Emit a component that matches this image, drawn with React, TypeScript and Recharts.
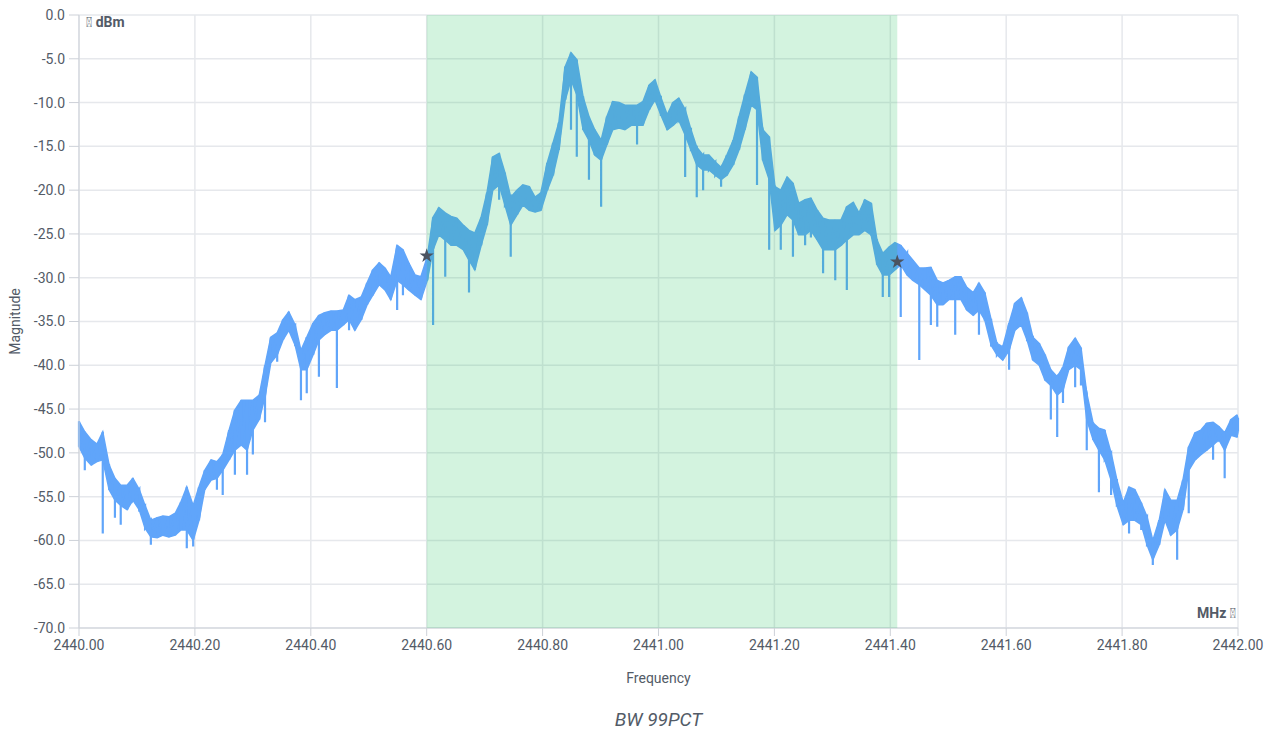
import {
  ComposedChart,
  Area,
  Line,
  Scatter,
  XAxis,
  YAxis,
  CartesianGrid,
  ReferenceArea,
} from "recharts";

// sample frequencies (MHz)
const freqMHz = [
  2440.0, 2440.01, 2440.021, 2440.031, 2440.041, 2440.052, 2440.062, 2440.072, 2440.083, 2440.093,
  2440.104, 2440.114, 2440.124, 2440.135, 2440.145, 2440.155, 2440.166, 2440.176, 2440.186, 2440.197,
  2440.207, 2440.217, 2440.228, 2440.238, 2440.248, 2440.259, 2440.269, 2440.28, 2440.29, 2440.3,
  2440.311, 2440.321, 2440.331, 2440.342, 2440.352, 2440.362, 2440.373, 2440.383, 2440.393, 2440.404,
  2440.414, 2440.424, 2440.435, 2440.445, 2440.456, 2440.466, 2440.476, 2440.487, 2440.497, 2440.507,
  2440.518, 2440.528, 2440.538, 2440.549, 2440.559, 2440.569, 2440.58, 2440.59, 2440.601, 2440.611,
  2440.621, 2440.632, 2440.642, 2440.652, 2440.663, 2440.673, 2440.683, 2440.694, 2440.704, 2440.714,
  2440.725, 2440.735, 2440.745, 2440.756, 2440.766, 2440.777, 2440.787, 2440.797, 2440.808, 2440.818,
  2440.828, 2440.839, 2440.849, 2440.859, 2440.87, 2440.88, 2440.89, 2440.901, 2440.911, 2440.921,
  2440.932, 2440.942, 2440.953, 2440.963, 2440.973, 2440.984, 2440.994, 2441.004, 2441.015, 2441.025,
  2441.035, 2441.046, 2441.056, 2441.066, 2441.077, 2441.087, 2441.098, 2441.108, 2441.118, 2441.129,
  2441.139, 2441.149, 2441.16, 2441.17, 2441.18, 2441.191, 2441.201, 2441.211, 2441.222, 2441.232,
  2441.242, 2441.253, 2441.263, 2441.274, 2441.284, 2441.294, 2441.305, 2441.315, 2441.325, 2441.336,
  2441.346, 2441.356, 2441.367, 2441.377, 2441.387, 2441.398, 2441.408, 2441.418, 2441.429, 2441.439,
  2441.45, 2441.46, 2441.47, 2441.481, 2441.491, 2441.501, 2441.512, 2441.522, 2441.532, 2441.543,
  2441.553, 2441.563, 2441.574, 2441.584, 2441.594, 2441.605, 2441.615, 2441.626, 2441.636, 2441.646,
  2441.657, 2441.667, 2441.677, 2441.688, 2441.698, 2441.708, 2441.719, 2441.729, 2441.739, 2441.75,
  2441.76, 2441.77, 2441.781, 2441.791, 2441.802, 2441.812, 2441.822, 2441.833, 2441.843, 2441.853,
  2441.864, 2441.874, 2441.884, 2441.895, 2441.905, 2441.915, 2441.926, 2441.936, 2441.946, 2441.957,
  2441.967, 2441.977, 2441.988, 2441.998, 2442.0,
];

// top of the trace band (dBm)
const upper = [
  -46.4, -47.6, -48.5, -49.0, -47.6, -51.4, -52.9, -53.7, -53.7, -52.9,
  -54.2, -56.0, -57.7, -57.4, -57.2, -57.3, -56.9, -55.6, -53.9, -56.0,
  -53.9, -52.0, -50.8, -51.0, -50.2, -47.4, -45.1, -44.0, -44.0, -44.0,
  -43.4, -40.0, -36.8, -36.3, -34.8, -33.9, -35.4, -38.3, -36.8, -35.2,
  -34.3, -34.0, -33.8, -33.8, -33.7, -32.0, -32.5, -32.2, -30.6, -29.1,
  -28.3, -28.9, -29.9, -26.3, -26.8, -28.3, -29.7, -29.9, -27.6, -23.1,
  -22.0, -22.6, -23.0, -23.2, -24.0, -24.6, -24.9, -23.1, -20.3, -16.2,
  -15.8, -18.0, -20.8, -20.0, -19.4, -19.6, -20.8, -20.3, -16.9, -14.6,
  -12.3, -5.9, -4.3, -5.1, -9.4, -11.6, -13.1, -14.3, -11.6, -9.9,
  -10.0, -10.3, -10.3, -10.3, -9.9, -8.0, -7.4, -9.4, -11.4, -10.0,
  -9.5, -10.8, -13.1, -15.1, -16.0, -16.0, -16.8, -17.4, -16.0, -14.3,
  -11.6, -9.1, -6.5, -7.1, -13.1, -13.9, -19.6, -20.0, -18.5, -19.2,
  -21.5, -21.1, -20.9, -22.3, -23.2, -23.4, -23.4, -23.4, -21.9, -21.4,
  -22.6, -21.1, -21.5, -25.7, -27.2, -26.5, -26.0, -26.3, -27.2, -28.0,
  -28.9, -28.9, -28.8, -30.3, -30.6, -30.3, -29.9, -29.9, -31.1, -31.7,
  -30.6, -31.7, -34.8, -37.5, -37.9, -35.2, -32.9, -32.3, -34.0, -36.8,
  -37.5, -38.8, -40.5, -41.3, -40.2, -37.9, -36.9, -38.0, -43.2, -46.6,
  -47.2, -47.4, -50.0, -53.1, -55.7, -53.9, -54.2, -55.7, -57.3, -60.0,
  -57.7, -54.2, -55.4, -55.4, -53.1, -49.3, -47.7, -47.4, -46.6, -46.5,
  -47.0, -47.7, -46.2, -45.7, -46.0,
];

// bottom of the trace band (dBm)
const lower = [
  -49.3, -50.6, -51.4, -51.0, -50.8, -54.2, -55.4, -56.0, -56.5, -55.4,
  -56.5, -58.6, -59.6, -59.7, -59.4, -59.6, -59.4, -58.8, -58.8, -60.0,
  -57.7, -54.2, -53.1, -52.9, -52.0, -50.8, -49.7, -49.1, -49.7, -47.4,
  -46.2, -43.6, -39.7, -38.8, -37.1, -36.0, -37.7, -40.5, -40.5, -38.8,
  -37.1, -36.5, -36.0, -36.0, -35.4, -34.8, -36.0, -34.8, -33.1, -32.0,
  -30.8, -31.4, -32.5, -30.3, -30.8, -31.4, -32.0, -32.5, -30.3, -26.8,
  -25.1, -25.7, -26.3, -26.3, -26.8, -28.0, -29.1, -26.3, -24.0, -20.0,
  -19.4, -21.7, -24.0, -22.8, -21.7, -22.3, -22.5, -22.3, -20.0, -18.3,
  -15.4, -9.7, -7.4, -9.1, -13.1, -14.3, -16.0, -16.6, -14.8, -13.1,
  -12.9, -13.1, -12.6, -12.6, -12.6, -10.8, -9.7, -11.4, -13.1, -12.6,
  -12.0, -13.7, -15.4, -17.1, -17.7, -17.7, -18.3, -18.8, -18.3, -17.1,
  -15.4, -13.1, -10.3, -10.8, -16.6, -18.8, -24.6, -24.0, -22.8, -23.4,
  -25.1, -25.1, -24.6, -25.7, -26.8, -26.8, -26.8, -26.3, -25.7, -25.1,
  -25.1, -24.6, -25.1, -28.5, -29.7, -29.7, -29.1, -28.5, -29.7, -30.3,
  -30.8, -31.4, -32.0, -33.1, -33.1, -32.5, -32.5, -32.5, -33.7, -34.3,
  -33.7, -34.8, -37.7, -38.8, -39.4, -38.3, -36.0, -35.4, -37.1, -39.4,
  -40.0, -41.7, -42.3, -43.4, -42.8, -40.5, -40.0, -40.5, -46.2, -48.5,
  -49.7, -50.8, -53.1, -56.0, -58.2, -57.7, -57.7, -58.2, -60.5, -62.2,
  -60.5, -57.7, -59.4, -58.8, -56.5, -52.0, -50.8, -50.2, -49.7, -49.1,
  -48.5, -49.7, -48.0, -48.2, -47.6,
];

// deep narrow dips in the trace
const spikeFreq = [
  2440.01, 2440.041, 2440.062, 2440.072, 2440.124, 2440.186, 2440.197, 2440.238, 2440.248, 2440.269,
  2440.29, 2440.3, 2440.321, 2440.342, 2440.383, 2440.393, 2440.414, 2440.445, 2440.466, 2440.549,
  2440.559, 2440.611, 2440.632, 2440.673, 2440.725, 2440.745, 2440.849, 2440.859, 2440.88, 2440.901,
  2440.963, 2441.046, 2441.066, 2441.077, 2441.108, 2441.17, 2441.191, 2441.211, 2441.232, 2441.253,
  2441.263, 2441.284, 2441.305, 2441.325, 2441.387, 2441.398, 2441.418, 2441.45, 2441.47, 2441.481,
  2441.512, 2441.553, 2441.605, 2441.677, 2441.688, 2441.698, 2441.719, 2441.729, 2441.739, 2441.76,
  2441.781, 2441.812, 2441.833, 2441.853, 2441.895, 2441.915, 2441.957, 2441.977,
];
const spikeLevel = [
  -52.0, -59.2, -57.4, -58.2, -60.5, -60.9, -60.7, -54.2, -54.8, -52.5,
  -52.5, -50.2, -46.5, -39.6, -44.0, -43.2, -41.3, -42.6, -36.0, -33.7,
  -32.0, -35.4, -29.9, -31.7, -21.1, -27.6, -13.1, -16.2, -18.8, -21.9,
  -14.8, -18.5, -20.8, -20.0, -19.6, -19.4, -26.8, -26.8, -27.6, -26.3,
  -25.4, -29.5, -30.3, -31.4, -32.2, -32.2, -34.5, -39.4, -35.4, -35.6,
  -36.5, -36.5, -40.5, -46.2, -48.2, -44.3, -42.5, -42.3, -49.7, -54.5,
  -54.8, -59.2, -58.8, -62.8, -62.2, -56.9, -50.8, -52.9,
];

// band edges of the 99% bandwidth
const bwStart = 2440.6;
const bwEnd = 2441.412;
const markers = [
  { f: 2440.6, v: -27.5 },
  { f: 2441.412, v: -28.2 },
];

const xTicks = [2440, 2440.2, 2440.4, 2440.6, 2440.8, 2441, 2441.2, 2441.4, 2441.6, 2441.8, 2442];
const yTicks = [0, -5, -10, -15, -20, -25, -30, -35, -40, -45, -50, -55, -60, -65, -70];

const spikeMap = new Map(spikeFreq.map((f, i) => [f.toFixed(3), spikeLevel[i]]));

// filled band between lower and upper
const band = freqMHz.map((f, i) => ({ f, range: [lower[i], upper[i]] }));

// each sample: top -> (dip) -> bottom, so the dips show as thin drops
const trace: { f: number; v: number }[] = [];
freqMHz.forEach((f, i) => {
  trace.push({ f, v: upper[i] });
  const s = spikeMap.get(f.toFixed(3));
  if (s !== undefined) trace.push({ f, v: s });
  trace.push({ f, v: lower[i] });
});

const FONT = "Roboto, 'Noto Sans', sans-serif";
const TEXT = "#535b67";
const AXIS = "#cdd1d8";
const GRID = "#e6e8ec";
const BLUE = "#60a5fa";
const MISSING = "\uE000";

export default function App() {
  return (
    <div style={{ position: "relative", width: 1269, height: 725, fontFamily: FONT }}>
      <ComposedChart
        width={1269}
        height={725}
        data={band}
        margin={{ top: 7, right: 39, bottom: 51, left: 0 }}
      >
        <CartesianGrid stroke={GRID} strokeWidth={1.5} />
        <XAxis
          dataKey="f"
          type="number"
          domain={[2440, 2442]}
          ticks={xTicks}
          tickFormatter={(v: number) => v.toFixed(2)}
          height={54}
          tickSize={8}
          tickMargin={4}
          stroke={AXIS}
          tick={{ fill: TEXT, fontSize: 14, fontFamily: FONT }}
          label={{
            value: "Frequency",
            position: "insideBottom",
            offset: -1,
            fill: TEXT,
            fontSize: 14,
            fontFamily: FONT,
          }}
        />
        <YAxis
          type="number"
          domain={[-70, 0]}
          ticks={yTicks}
          tickFormatter={(v: number) => v.toFixed(1)}
          width={71}
          tickSize={10}
          tickMargin={4}
          stroke={AXIS}
          interval={0}
          tick={{ fill: TEXT, fontSize: 14, fontFamily: FONT }}
          label={{
            value: "Magnitude",
            angle: -90,
            position: "insideLeft",
            offset: 7,
            style: { textAnchor: "middle" },
            fill: TEXT,
            fontSize: 14,
            fontFamily: FONT,
          }}
        />
        <Area
          dataKey="range"
          stroke={BLUE}
          strokeWidth={1.5}
          fill={BLUE}
          fillOpacity={1}
          dot={false}
          activeDot={false}
          isAnimationActive={false}
        />
        <Line
          data={trace}
          dataKey="v"
          stroke={BLUE}
          strokeWidth={2.2}
          dot={false}
          activeDot={false}
          isAnimationActive={false}
        />
        <ReferenceArea
          x1={bwStart}
          x2={bwEnd}
          fill="#22c55e"
          fillOpacity={0.2}
          stroke="none"
          zIndex={500}
        />
        <Scatter
          data={markers}
          dataKey="v"
          shape="star"
          fill="#4b5360"
          isAnimationActive={false}
          zIndex={600}
        />
      </ComposedChart>
      <div
        style={{
          position: "absolute",
          left: 78,
          top: 6,
          fontSize: 14,
          fontWeight: 700,
          color: TEXT,
          lineHeight: "16px",
        }}
      >
        {MISSING} dBm
      </div>
      <div
        style={{
          position: "absolute",
          right: 41,
          top: 597,
          fontSize: 14,
          fontWeight: 700,
          color: TEXT,
          lineHeight: "16px",
        }}
      >
        MHz {MISSING}
      </div>
      <div
        style={{
          position: "absolute",
          left: 71,
          width: 1159,
          top: 700,
          textAlign: "center",
          fontSize: 19,
          fontStyle: "italic",
          color: TEXT,
          lineHeight: "24px",
        }}
      >
        BW 99PCT
      </div>
    </div>
  );
}
